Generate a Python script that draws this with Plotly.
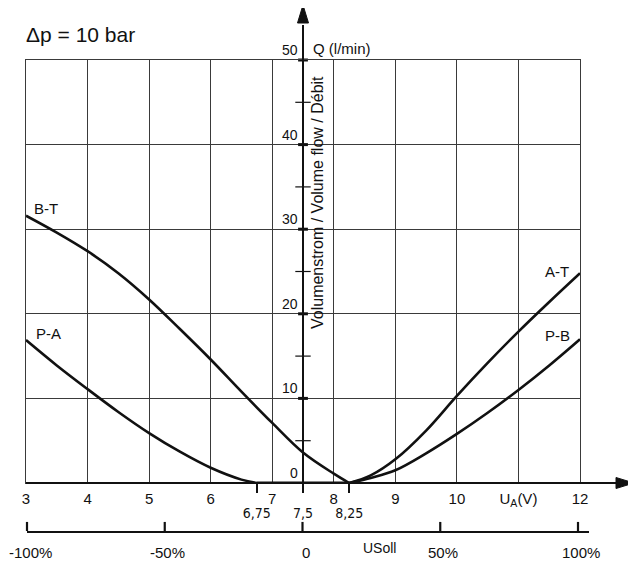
import plotly.graph_objects as go

# ---------------- data ----------------
bt_x = [3, 3.5, 4, 4.5, 5, 5.5, 6, 6.5, 7, 7.5, 8, 8.25]
bt_y = [31.6, 29.6, 27.4, 24.8, 21.7, 18.2, 14.6, 10.8, 7.1, 3.6, 1.1, 0]
pa_x = [3, 3.5, 4, 4.5, 5, 5.5, 6, 6.5, 6.75]
pa_y = [16.9, 13.9, 11.1, 8.4, 5.9, 3.7, 1.8, 0.4, 0]
dead_x = [6.75, 8.25]
dead_y = [0, 0]
at_x = [8.25, 8.6, 9, 9.5, 10, 10.5, 11, 11.5, 12]
at_y = [0, 0.9, 2.8, 6.2, 10.3, 14.2, 17.9, 21.4, 24.8]
pb_x = [8.25, 8.6, 9, 9.5, 10, 10.5, 11, 11.5, 12]
pb_y = [0, 0.6, 1.5, 3.5, 5.8, 8.3, 11.0, 13.9, 17.0]

volt_ticks = [3, 4, 5, 6, 7, 8, 9, 10, 11, 12]
volt_labels = ['3', '4', '5', '6', '7', '8', '9', '10', 'U<sub>A</sub>(V)', '12']
special_ticks = [6.75, 7.5, 8.25]
special_labels = ['6,75', '7,5', '8,25']
flow_ticks = [0, 10, 20, 30, 40, 50]
flow_minor = [5, 15, 25, 35, 45]
pct_ticks = [-100, -50, 0, 50, 100]
pct_labels = ['-100%', '-50%', '0', '50%', '100%']

curve_names = ['B-T', 'P-A', 'A-T', 'P-B']
curve_xs = [bt_x, pa_x, at_x, pb_x]
curve_ys = [bt_y, pa_y, at_y, pb_y]

# ---------------- layout helpers ----------------
# the page body adds an 8 px offset; all pixel targets below are screen pixels
OFF = 8
W, H = 636, 569
L, R, T, B = 12, 40, 52, 46
PW, PH = W - L - R, H - T - B
BASE = T + PH  # figure px of paper y=0


def px_x(px):
    return (px - OFF - L) / PW


def px_y(py):
    return (BASE - (py - OFF)) / PH


FONT = "Liberation Sans, Arial, Helvetica, sans-serif"
NARROW = "Liberation Sans Narrow, DejaVu Sans Condensed, Arial Narrow, sans-serif"
INK = "#111111"
GRID = "#3a3a3a"

fig = go.Figure()

for xs, ys in zip(curve_xs, curve_ys):
    fig.add_trace(go.Scatter(x=xs, y=ys, mode='lines',
                             line=dict(color=INK, width=2.6, shape='spline', smoothing=1.0),
                             hoverinfo='skip', showlegend=False))

fig.add_trace(go.Scatter(x=dead_x, y=dead_y, mode='lines', xaxis='x3', yaxis='y',
                         line=dict(color=INK, width=3), hoverinfo='skip', showlegend=False))

# ticks crossing the flow axis
fig.add_trace(go.Scatter(x=[7.5] * len(flow_minor), y=flow_minor, mode='markers',
                         marker=dict(symbol='line-ew', size=11, line=dict(color=INK, width=1.2)),
                         cliponaxis=False, hoverinfo='skip', showlegend=False))
fig.add_trace(go.Scatter(x=[7.5] * len(flow_ticks[1:]), y=flow_ticks[1:], mode='markers',
                         marker=dict(symbol='line-ew', size=7, line=dict(color=INK, width=3)),
                         cliponaxis=False, hoverinfo='skip', showlegend=False))

# tick marks of the percent scale (pointing up from its line)
fig.add_trace(go.Scatter(x=pct_ticks, y=[0.48] * len(pct_ticks), xaxis='x2', yaxis='y2',
                         mode='markers',
                         marker=dict(symbol='line-ns', size=6.5, line=dict(color=INK, width=2.2)),
                         cliponaxis=False, hoverinfo='skip', showlegend=False))

x_dom = [px_x(26), px_x(580)]
y0p = px_y(483)
pct_y = px_y(531)
pct_left, pct_zero, pct_right = 27, 302.5, 589
pct_scale = (pct_zero - pct_left) / 100.0
pct_max = (pct_right - pct_zero) / pct_scale

fig.update_layout(
    width=W, height=H,
    margin=dict(l=L, r=R, t=T, b=B, autoexpand=False),
    paper_bgcolor='white', plot_bgcolor='white',
    font=dict(family=FONT, size=15, color=INK),
    showlegend=False,
    xaxis=dict(domain=x_dom, range=[3, 12], anchor='y', automargin=False,
               tickvals=volt_ticks, ticktext=volt_labels, ticks='',
               showgrid=True, gridcolor=GRID, gridwidth=1,
               showline=True, mirror=True, linecolor=GRID, linewidth=1,
               zeroline=False, tickfont=dict(size=15), ticklabelstandoff=2),
    yaxis=dict(domain=[y0p, px_y(60)], range=[0, 50], anchor='x', automargin=False,
               tickvals=flow_ticks, showticklabels=False, ticks='',
               showgrid=True, gridcolor=GRID, gridwidth=1,
               showline=True, mirror=True, linecolor=GRID, linewidth=1,
               zeroline=False),
    xaxis3=dict(overlaying='x', anchor='y', range=[3, 12], side='bottom', automargin=False,
                tickvals=special_ticks, ticktext=special_labels,
                ticks='outside', ticklen=9, tickwidth=2, tickcolor=INK,
                showgrid=False, showline=False, zeroline=False,
                tickfont=dict(family=NARROW, size=14), ticklabelstandoff=8),
    xaxis2=dict(domain=[px_x(pct_left), px_x(pct_right)], range=[-100, pct_max],
                anchor='y2', automargin=False, showticklabels=False, ticks='',
                showline=True, linecolor=INK, linewidth=1.5,
                showgrid=False, zeroline=False),
    yaxis2=dict(domain=[pct_y, pct_y + 0.02], range=[0, 1], visible=False, anchor='x2',
                automargin=False),
)

# axis lines with arrowheads
x_tip, x_base = 634, 616
y_tip, y_base = 5, 23
shapes = [
    dict(type='line', xref='paper', yref='paper', x0=px_x(26), x1=px_x(x_base + 2),
         y0=y0p, y1=y0p, line=dict(color=INK, width=2)),
    dict(type='path', xref='paper', yref='paper',
         path=f"M {px_x(x_tip)},{y0p} L {px_x(x_base)},{y0p + 5.5 / PH} "
              f"L {px_x(x_base)},{y0p - 5.5 / PH} Z",
         fillcolor=INK, line=dict(color=INK, width=1)),
    dict(type='line', xref='paper', yref='paper', x0=px_x(303), x1=px_x(303),
         y0=px_y(492), y1=px_y(y_base + 2), line=dict(color=INK, width=2)),
    dict(type='path', xref='paper', yref='paper',
         path=f"M {px_x(303)},{px_y(y_tip)} L {px_x(297.5)},{px_y(y_base)} "
              f"L {px_x(308.5)},{px_y(y_base)} Z",
         fillcolor=INK, line=dict(color=INK, width=1)),
]
fig.update_layout(shapes=shapes)

ann = []
for v in flow_ticks:
    ann.append(dict(x=7.5, y=v, xref='x', yref='y', text=str(v), showarrow=False,
                    xanchor='right', yanchor='bottom', xshift=-3, yshift=0,
                    font=dict(size=14)))

for v, t in zip(pct_ticks, pct_labels):
    ann.append(dict(x=v, y=px_y(552), xref='x2', yref='paper', text=t, showarrow=False,
                    xanchor='center', yanchor='middle', xshift=3, font=dict(size=15)))

ann.append(dict(x=px_x(311), y=px_y(48), xref='paper', yref='paper', text='Q (l/min)',
                showarrow=False, xanchor='left', yanchor='middle', font=dict(size=15)))
ann.append(dict(x=px_x(317), y=px_y(203), xref='paper', yref='paper',
                text='Volumenstrom / Volume flow / Débit', textangle=-90,
                showarrow=False, xanchor='center', yanchor='middle', font=dict(size=16)))
ann.append(dict(x=px_x(24), y=px_y(34), xref='paper', yref='paper', text='Δp = 10 bar',
                showarrow=False, xanchor='left', yanchor='middle', font=dict(size=21)))
ann.append(dict(x=(379 - pct_zero) / pct_scale, y=px_y(548), xref='x2', yref='paper',
                text='USoll', showarrow=False, xanchor='center', yanchor='middle',
                font=dict(size=14)))

label_pos = {'B-T': (46, 208), 'P-A': (48, 333), 'A-T': (557, 271), 'P-B': (557, 335)}
for name in curve_names:
    px, py = label_pos[name]
    ann.append(dict(x=px_x(px), y=px_y(py), xref='paper', yref='paper', text=name,
                    showarrow=False, xanchor='center', yanchor='middle', font=dict(size=15)))

fig.update_layout(annotations=ann)

fig.write_html("out.html")
